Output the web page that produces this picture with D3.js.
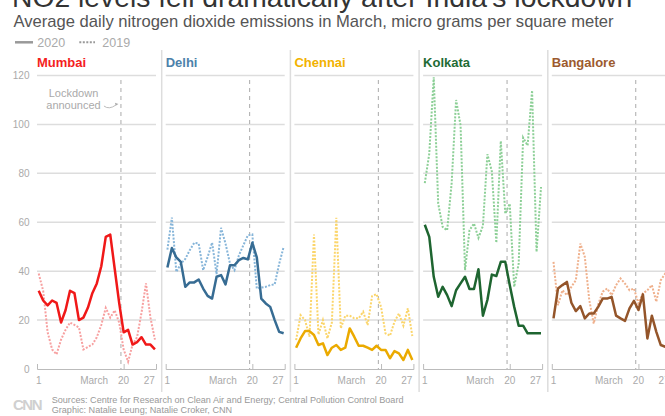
<!DOCTYPE html>
<html>
<head>
<meta charset="utf-8">
<script src="https://cdn.jsdelivr.net/npm/d3@7"></script>
<style>
  body { margin: 0; background: #fff; }
  svg { display: block; font-family: "Liberation Sans", Arial, sans-serif; }
</style>
</head>
<body>
<div id="chart"></div>
<script>
// days of March shown on every panel
var days = [1,2,3,4,5,6,7,8,9,10,11,12,13,14,15,16,17,18,19,20,21,22,23,24,25,26,27];
var lockdownDay = 19.4;

var cities = ["Mumbai", "Delhi", "Chennai", "Kolkata", "Bangalore"];

var mumbai2020 = [32,28,26,28,27,19,24,32,31,20,21,25,31,35,42,54,55,41,27,15,16,10,11,13,10,10,8];
var mumbai2019 = [39,32,15,8,6,12,16,19,18,17,8,9,10,13,18,25,21,24,19,8,3,10,13,23,35,21,12];

var delhi2020 = [41.5,49.5,45.6,43.8,33.6,35.4,35.4,36.6,32.9,29.9,28.8,37.7,38.4,34.6,42.4,42.4,44.5,45.4,44.8,51.6,45.6,28.8,26.8,25.4,20,15.2,14.6];
var delhi2019 = [48.8,61.9,39.7,43,45,48.6,51.6,51.3,40.4,45.8,51.7,38.8,57.7,51.3,43.1,40.4,46.5,50.6,54.7,55,32.9,33.3,33.6,34.3,34.6,43,49.9];

var chennai2020 = [8.7,12.5,15.5,15.5,13.9,9.8,10.5,5.7,8.7,9.8,7.8,8.7,16.6,13.2,9.5,9.5,8.7,7.8,9.5,7.8,7.8,4.4,7.3,6.4,3.7,7.8,3.7];
var chennai2019 = [11.8,22,20,13.2,55,14.1,20,12.5,19,61.8,16.6,21.8,21.8,20.7,20.7,23.4,18,29.8,30.6,25.4,14.6,13.6,19.3,22.7,17.7,24.8,13.5];

var kolkata2020 = [59,54,37.7,29.5,33.6,30.2,25.7,32.2,35,37.7,32.7,32.7,40.8,21.8,28.2,38.6,38,43.8,43.8,34.3,25.4,17.7,17.7,14.6,14.6,14.6,14.6];
var kolkata2019 = [76,88,119.3,67.6,58.1,56.7,75.8,110,99.6,40.4,56.7,59.5,53.6,58.5,87.8,80.8,51.6,93.2,63.5,67.6,33.6,43.1,94.6,91.4,113.9,47.9,74.4];

var bangalore2020 = [20.7,32.9,34.3,35.6,27.1,23.7,25.7,20.7,22.7,22.7,25.4,28.8,28.8,29.5,21.8,20.7,19.7,24.8,27.9,24.1,30.5,12.5,21.8,15.2,9.8,9.1,8.5];
var bangalore2019 = [43.8,26.1,32.2,30.2,33.6,36.3,51.3,45.9,28.2,18.6,26.4,31.6,32.9,30.2,34.3,37,34.9,32.2,32.9,26.8,30.9,32.2,34.3,27.5,36.3,39,38];

var series2020 = [mumbai2020, delhi2020, chennai2020, kolkata2020, bangalore2020];
var series2019 = [mumbai2019, delhi2019, chennai2019, kolkata2019, bangalore2019];

var yTicks = [0, 20, 40, 60, 80, 100, 120];

var titleColors = ["#f41e1e", "#4d81aa", "#f2b200", "#1f6b35", "#9c5a2e"];
var colors2020  = ["#f01818", "#376c93", "#ebaa00", "#1e6530", "#94552a"];
var colors2019  = ["#f7a0a0", "#86b5d9", "#fbd56a", "#8ccf96", "#efb08c"];

var W = 665, H = 416;
var panelLeft = 37, panelStep = 128.7, panelWidth = 119;
var plotTop = 75.5, plotBottom = 369;

var svg = d3.select("#chart").append("svg")
    .attr("width", W)
    .attr("height", H);

// header
svg.append("text")
    .attr("x", 12).attr("y", 6.5)
    .style("font-size", "28.3px")
    .style("fill", "#333")
    .text("NO2 levels fell dramatically after India's lockdown");

svg.append("text")
    .attr("x", 13.5).attr("y", 27)
    .style("font-size", "16.6px")
    .style("fill", "#555")
    .text("Average daily nitrogen dioxide emissions in March, micro grams per square meter");

var legend = svg.append("g").attr("transform", "translate(0,42.3)");
legend.append("line").attr("x1", 15).attr("x2", 33)
    .style("stroke", "#999").style("stroke-width", 2.5);
legend.append("text").attr("x", 37.3).attr("y", 4.3)
    .style("font-size", "12.5px").style("fill", "#aaa").text("2020");
legend.append("line").attr("x1", 79.3).attr("x2", 95)
    .style("stroke", "#999").style("stroke-width", 2).style("stroke-dasharray", "2,1.5");
legend.append("text").attr("x", 102.3).attr("y", 4.3)
    .style("font-size", "12.5px").style("fill", "#aaa").text("2019");

var y = d3.scaleLinear().domain([0, 120]).range([plotBottom, plotTop]);

// y labels, only on the first panel
svg.append("g").selectAll("text")
    .data(yTicks)
    .enter().append("text")
    .attr("x", 29.5)
    .attr("y", function(d) { return y(d) + 3.6; })
    .attr("text-anchor", "end")
    .style("font-size", "10px")
    .style("fill", "#aaa")
    .text(function(d) { return d; });

function drawPanel(i) {
    var x0 = panelLeft + i * panelStep;
    var x = d3.scaleLinear().domain([0.62, 27.24]).range([0, panelWidth]);
    var g = svg.append("g").attr("transform", "translate(" + x0 + ",0)");

    if (i > 0) {
        g.append("line")
            .attr("x1", -4).attr("x2", -4)
            .attr("y1", 50).attr("y2", 392)
            .style("stroke", "#ddd").style("stroke-width", 1.5);
    }

    g.append("text")
        .attr("x", 0).attr("y", 67)
        .style("font-size", "13px")
        .style("font-weight", "bold")
        .style("fill", titleColors[i])
        .text(cities[i]);

    g.selectAll("line.grid")
        .data(yTicks.filter(function(d) { return d > 0; }))
        .enter().append("line")
        .attr("class", "grid")
        .attr("x1", 0).attr("x2", panelWidth)
        .attr("y1", function(d) { return y(d); })
        .attr("y2", function(d) { return y(d); })
        .style("stroke", "#ddd").style("stroke-width", 1.5);

    var axis = d3.axisBottom(x)
        .tickValues([20])
        .tickSizeInner(-5)
        .tickSizeOuter(-5)
        .tickFormat("");
    var ax = g.append("g").attr("transform", "translate(0," + plotBottom + ")").call(axis);
    ax.selectAll("path, line").style("stroke", "#bbb");

    var labels = [
        {t: "1", d: 1, a: "middle"},
        {t: "March", d: 13.4, a: "middle"},
        {t: "20", d: 20, a: "middle"},
        {t: "27", d: 27, a: "end"}
    ];
    g.selectAll("text.tick")
        .data(labels)
        .enter().append("text")
        .attr("class", "tick")
        .attr("x", function(d) { return x(d.d); })
        .attr("y", 384)
        .attr("text-anchor", function(d) { return d.a; })
        .style("font-size", "10px")
        .style("fill", "#aaa")
        .text(function(d) { return d.t; });

    g.append("line")
        .attr("x1", x(lockdownDay)).attr("x2", x(lockdownDay))
        .attr("y1", 80).attr("y2", plotBottom)
        .style("stroke", "#aaa").style("stroke-width", 1)
        .style("stroke-dasharray", "4,4");

    var line = d3.line()
        .x(function(d, k) { return x(days[k]); })
        .y(function(d) { return y(d); });

    g.append("path")
        .datum(series2019[i])
        .attr("d", line)
        .style("fill", "none")
        .style("stroke", colors2019[i])
        .style("stroke-width", 2)
        .style("stroke-dasharray", "2,1.5");

    g.append("path")
        .datum(series2020[i])
        .attr("d", line)
        .style("fill", "none")
        .style("stroke", colors2020[i])
        .style("stroke-width", 2.5)
        .style("stroke-linejoin", "round");

    if (i == 0) {
        var lx = x(lockdownDay);
        g.append("text")
            .attr("x", 36.5).attr("y", 97)
            .attr("text-anchor", "middle")
            .style("font-size", "11px").style("fill", "#aaa")
            .text("Lockdown");
        g.append("text")
            .attr("x", 36.5).attr("y", 109)
            .attr("text-anchor", "middle")
            .style("font-size", "11px").style("fill", "#aaa")
            .text("announced");
        g.append("path")
            .attr("d", "M" + (lx - 17) + ",106 q5,4 12,-1")
            .style("fill", "none").style("stroke", "#aaa").style("stroke-width", 0.8);
        g.append("path")
            .attr("d", "M" + (lx - 2.5) + ",104 l-3.5,-1.2 l0.8,3 z")
            .style("fill", "#aaa");
    }
}

for (var i = 0; i < cities.length; i++) {
    drawPanel(i);
}

// footer
svg.append("text")
    .attr("x", 13).attr("y", 410)
    .style("font-size", "15px")
    .style("font-weight", "bold")
    .style("letter-spacing", "-1.5px")
    .style("fill", "#d0d0d0")
    .text("CNN");
svg.append("text")
    .attr("x", 51.7).attr("y", 403)
    .style("font-size", "9.1px").style("fill", "#999")
    .text("Sources: Centre for Research on Clean Air and Energy; Central Pollution Control Board");
svg.append("text")
    .attr("x", 51.7).attr("y", 412.5)
    .style("font-size", "9.1px").style("fill", "#999")
    .text("Graphic: Natalie Leung; Natalie Croker, CNN");
</script>
</body>
</html>
